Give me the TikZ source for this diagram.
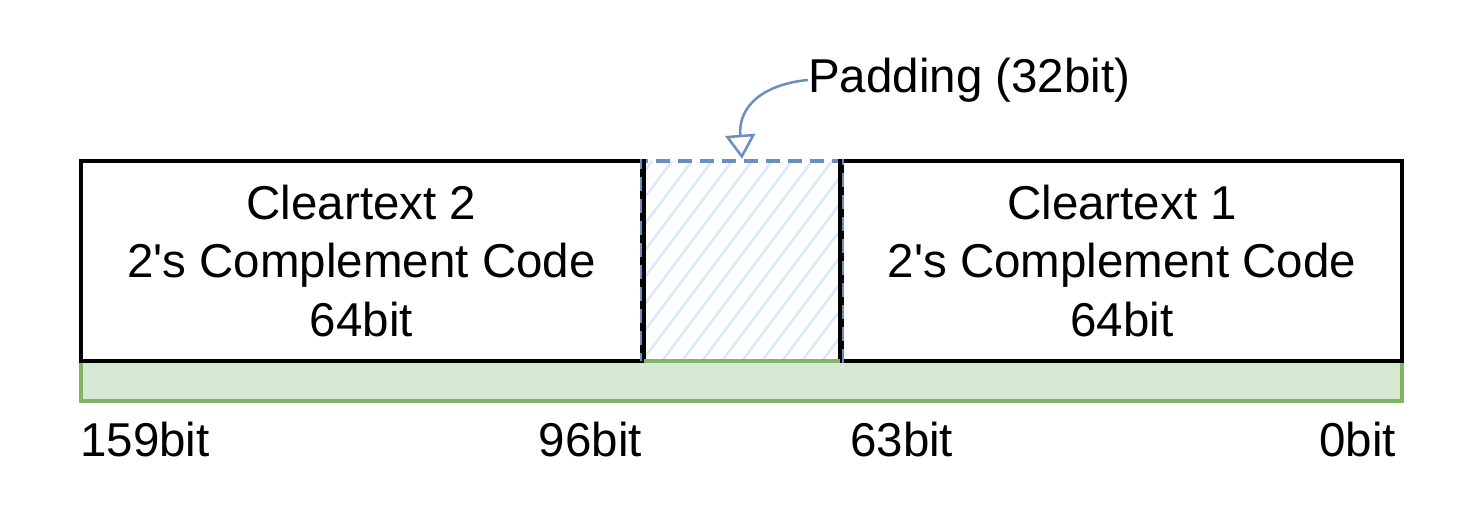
\documentclass[tikz,border=0pt]{standalone}
\usepackage{fontspec}
\setmainfont{Liberation Sans}
\usetikzlibrary{arrows.meta}
\definecolor{greenfill}{HTML}{D5E8D4}
\definecolor{greenline}{HTML}{82B366}
\definecolor{bluefill}{HTML}{DAE8FC}
\definecolor{blueline}{HTML}{6C8EBF}
\tikzset{
  field/.style={draw=black, line width=4pt, fill=white, align=center, font=\fontsize{47.5}{58.5}\selectfont, inner sep=0pt},
  bitlabel/.style={font=\fontsize{47.5}{55}\selectfont, inner sep=0pt},
}
\begin{document}
\begin{tikzpicture}[x=1pt,y=-1pt]
\useasboundingbox (0,0) rectangle (1460,524);
% green bar
\draw[draw=greenline, fill=greenfill, line width=4pt] (81,361) rectangle (1402,401);
% boxes
\node[field, minimum width=561pt, minimum height=200pt] (c2) at (361.5,261) {Cleartext 2\\2\textquotesingle s Complement Code\\64bit};
\node[field, minimum width=560pt, minimum height=200pt] (c1) at (1122,261) {Cleartext 1\\2\textquotesingle s Complement Code\\64bit};
% padding
\fill[white] (642,161) rectangle (842,361);
\begin{scope}
\clip (642,161) rectangle (842,361);
\foreach \i in {-180,-160,...,320} {
  \draw[bluefill, line width=2.5pt] (642+\i,361) -- (642+\i+150,161);
}
\end{scope}
\node[draw=blueline, dash pattern=on 14pt off 8pt, line width=4.5pt, minimum width=200pt, minimum height=200pt, inner sep=0pt] (pad) at (742,261) {};
\draw[line width=4pt] (c2.north east) -- (c2.south east);
\draw[line width=4pt] (c1.north west) -- (c1.south west);
\draw[greenline, line width=4pt] (644,361) -- (840,361);
% label
\node[bitlabel, anchor=west] (padlbl) at (808,80) {Padding (32bit)};
\draw[blueline, line width=2.5pt, -{Triangle[open, length=24pt, width=30pt]}] (padlbl.west) .. controls (765,84) and (738,105) .. (pad.north);
% bit labels
\node[bitlabel, anchor=west] (b159) at (80,440) {159bit};
\node[bitlabel, anchor=east] (b96) at (642,440) {96bit};
\node[bitlabel, anchor=west] (b63) at (850,440) {63bit};
\node[bitlabel, anchor=east] (b0) at (1396,440) {0bit};
\end{tikzpicture}
\end{document}
